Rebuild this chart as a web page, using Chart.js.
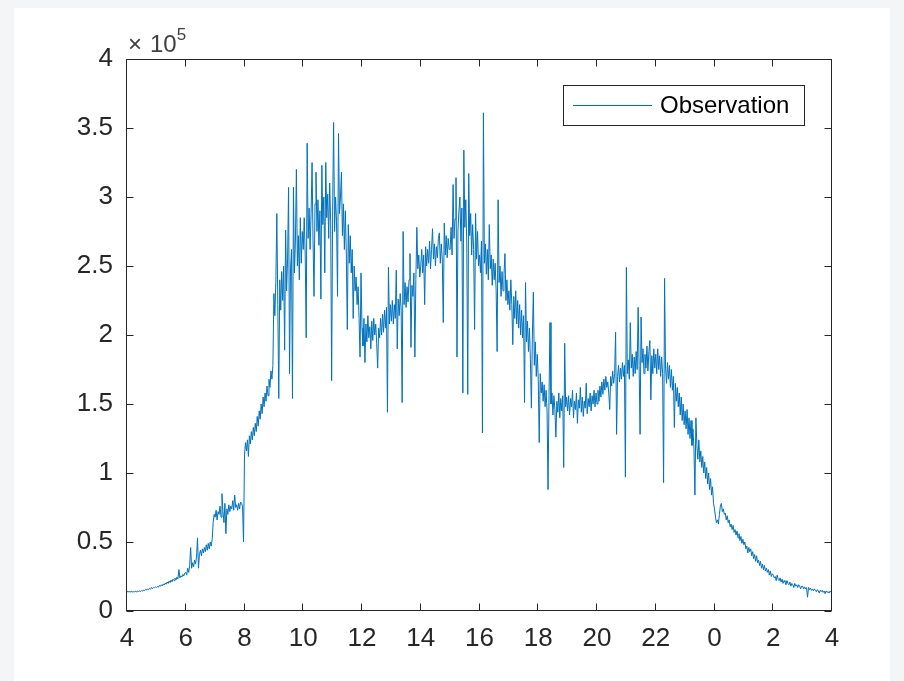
<!DOCTYPE html>
<html>
<head>
<meta charset="utf-8">
<script src="https://cdn.jsdelivr.net/npm/chart.js@4.4.1/dist/chart.umd.min.js"></script>
<style>
html,body{margin:0;padding:0;background:#f4f5f7;}
canvas{display:block;}
</style>
</head>
<body>
<canvas id="c" width="904" height="681"></canvas>
<script>
// ---------- data (values in thousands, one sample every 2 minutes from 04:00) ----------
const seriesLabel = 'Observation';
const startHour = 4;
const stepMinutes = 2;
const xTickLabels = ['4','6','8','10','12','14','16','18','20','22','0','2','4'];
const yTickLabels = ['0','0.5','1','1.5','2','2.5','3','3.5','4'];
const exponentLabel = '5';

// 04:00 - 07:58
const night = [
  14.0,14.3,13.7,14.1,13.8,14.2,13.6,14.1,13.9,14.3,13.8,14.4,14.0,14.6,14.1,14.9,14.4,15.2,14.7,15.6,15.2,16.0,15.5,16.5,15.8,17.0,16.2,17.2,16.8,17.5,
  17.0,17.8,17.2,18.5,17.8,19.0,18.2,19.6,18.8,20.2,19.4,21.0,20.0,21.8,20.6,22.4,21.2,23.0,22.0,23.8,22.6,24.5,23.2,30.0,24.0,25.5,24.6,26.5,25.4,27.5,
  28,26,31,28,33,46,31,35,32,37,34,39,53,31,41,44,40,45,42,46,43,48,44,49,45,50,47,52,64,70,
  68,73,66,72,70,76,68,85,72,64,78,56,74,70,77,72,76,74,80,73,84,75,77,73,78,74,79,78,76,50
];
// 08:00 - 11:58
const morning = [
  113,122,116,124,112,127,121,130,124,133,127,136,130,141,134,145,139,150,143,155,148,158,152,163,156,168,162,174,168,178,
  230,214,238,288,222,154,240,218,246,225,250,189,276,232,255,307,172,248,262,154,307,245,268,320,250,272,240,285,252,275,
  262,285,258,198,339,270,292,262,288,325,268,228,295,318,275,298,265,290,226,323,280,300,245,325,285,302,270,310,282,167,
  290,354,275,300,282,228,346,288,300,318,272,295,262,290,258,204,280,252,272,245,262,212,250,232,242,222,235,212,184,245
];
// 12:00 - 15:58
const midday = [
  205,192,212,180,208,195,214,198,206,190,210,196,212,200,208,194,176,205,198,212,200,215,202,218,205,220,144,249,208,222,
  210,225,208,222,212,247,190,226,214,230,218,151,275,222,238,220,235,224,240,259,191,236,228,245,184,240,278,248,258,242,
  250,262,245,258,222,264,250,262,252,268,248,262,277,255,266,250,264,256,270,274,252,266,255,209,281,258,272,256,270,262,
  262,278,258,309,270,284,314,184,276,290,300,268,292,158,334,278,298,266,157,317,272,288,258,280,262,204,288,255,275,250
];
// 16:00 - 19:58
const afternoon = [
  258,245,268,129,361,252,266,244,262,240,280,248,258,236,255,240,252,232,188,298,238,250,228,246,232,244,259,225,240,222,
  232,218,240,222,193,228,212,232,208,225,205,222,200,218,198,214,151,238,195,210,188,205,182,147,200,231,178,195,170,186,
  168,122,172,158,166,152,164,148,160,145,88,156,209,150,158,142,156,146,126,152,144,158,140,154,145,156,104,194,148,155,
  145,156,142,154,148,160,140,152,146,158,136,153,147,162,144,155,141,152,147,165,143,154,148,158,145,156,150,160,148,158
];
// 20:00 - 23:58
const evening = [
  150,160,152,163,155,166,157,168,160,170,162,166,158,146,170,163,174,165,172,202,128,170,178,166,176,168,180,170,178,97,
  249,172,182,168,209,176,186,170,184,172,188,175,220,178,128,213,180,190,172,186,176,192,174,188,196,153,185,172,190,176,
  186,172,190,175,185,170,184,172,93,241,176,165,180,168,178,162,175,160,170,133,165,152,162,148,158,142,155,138,150,135,
  145,132,146,128,140,125,138,120,132,118,84,140,120,110,124,108,116,104,112,100,108,96,104,92,100,88,96,84,90,78
];
// 00:00 - 04:00
const lateNight = [
  74,68,64,66,63,70,76,78,72,74,70,71,66,69,64,66,61,63,59,62,57,59,55,58,53,56,51,54,49,52,
  48,50,45,47,42,46,43,45,40,43,38,41,36,40,35,37,33,36,31,34,30,33,29,31,28,30,26,29,25,27,
  26,24,25,22,26,23,22,24,21,23,20,22,21,19,22,20,19,21,18,20,19,17,20,18,19,17,19,18,16,18,
  18,16,17.5,16,17,10,17,15.5,16.5,15,16,14.5,16,15,14,15.5,14.5,13,15,14,15,13.5,14.5,12.5,14.5,13.5,14,13,14.5,13.5,
  14
];

const observationK = [].concat(night, morning, midday, afternoon, evening, lateNight);
const points = observationK.map((v, i) => ({ x: startHour + i * stepMinutes / 60, y: v * 1000 }));

// ---------- styling ----------
const FONT = '"Liberation Sans", Arial, Helvetica, sans-serif';
const AXIS_COLOR = '#262626';
const LINE_COLOR = '#0072BD';

const matlabFrame = {
  id: 'matlabFrame',
  beforeDraw(chart) {
    const ctx = chart.ctx;
    ctx.save();
    ctx.fillStyle = '#f4f5f7';
    ctx.fillRect(0, 0, chart.width, chart.height);
    ctx.fillStyle = '#ffffff';
    ctx.fillRect(14, 8, chart.width - 28, chart.height - 8);
    ctx.restore();
  },
  afterDatasetsDraw(chart) {
    const { ctx, chartArea: a, scales: { x, y } } = chart;
    ctx.save();
    ctx.strokeStyle = AXIS_COLOR;
    ctx.lineWidth = 1;
    const L = Math.round(a.left) - 0.5, R = Math.round(a.right) - 0.5;
    const T = Math.round(a.top) + 0.5, B = Math.round(a.bottom) - 0.5;
    ctx.strokeRect(L, T, R - L, B - T);
    const tl = 7;
    ctx.beginPath();
    x.ticks.forEach(t => {
      const px = Math.round(x.getPixelForValue(t.value)) - 0.5;
      ctx.moveTo(px, B); ctx.lineTo(px, B - tl);
      ctx.moveTo(px, T); ctx.lineTo(px, T + tl);
    });
    y.ticks.forEach(t => {
      const py = Math.round(y.getPixelForValue(t.value)) + 0.5;
      ctx.moveTo(L, py); ctx.lineTo(L + tl, py);
      ctx.moveTo(R, py); ctx.lineTo(R - tl, py);
    });
    ctx.stroke();

    // exponent label  x10^5
    ctx.fillStyle = '#404040';
    ctx.textAlign = 'left';
    ctx.textBaseline = 'alphabetic';
    ctx.font = '24px ' + FONT;
    const xs = a.left + 1;
    ctx.fillText('\u00D7', xs, a.top - 7);
    const wx = ctx.measureText('\u00D7').width;
    ctx.fillText('10', xs + wx + 8, a.top - 7);
    const w10 = ctx.measureText('10').width;
    ctx.font = '17px ' + FONT;
    ctx.fillText(exponentLabel, xs + wx + 8 + w10, a.top - 19);

    // legend box
    const bx = a.right - 269, by = a.top + 26, bw = 241, bh = 40;
    ctx.fillStyle = '#ffffff';
    ctx.fillRect(bx, by, bw, bh);
    ctx.strokeStyle = AXIS_COLOR;
    ctx.strokeRect(Math.round(bx) + 0.5, Math.round(by) + 0.5, bw, bh);
    ctx.strokeStyle = LINE_COLOR;
    ctx.beginPath();
    ctx.moveTo(bx + 10, by + 20.5);
    ctx.lineTo(bx + 89, by + 20.5);
    ctx.stroke();
    ctx.fillStyle = '#000000';
    ctx.font = '24px ' + FONT;
    ctx.textBaseline = 'middle';
    ctx.fillText(chart.data.datasets[0].label, bx + 97, by + 21);
    ctx.restore();
  }
};

new Chart(document.getElementById('c'), {
  type: 'line',
  data: {
    datasets: [{
      label: seriesLabel,
      data: points,
      borderColor: LINE_COLOR,
      backgroundColor: LINE_COLOR,
      borderWidth: 1,
      pointRadius: 0,
      fill: false,
      tension: 0
    }]
  },
  options: {
    responsive: false,
    animation: false,
    devicePixelRatio: 1,
    layout: { padding: { top: 59, right: 72, left: 0, bottom: 0 } },
    plugins: { legend: { display: false }, tooltip: { enabled: false } },
    scales: {
      x: {
        type: 'linear', min: 4, max: 28,
        grid: { display: false, drawTicks: false, tickLength: 0 },
        border: { display: false },
        ticks: {
          stepSize: 2, autoSkip: false, maxRotation: 0, padding: 12,
          color: AXIS_COLOR, font: { family: FONT, size: 26 },
          callback: (v, i) => xTickLabels[i]
        },
        afterFit(s) { s.height = 70; }
      },
      y: {
        type: 'linear', min: 0, max: 400000,
        grid: { display: false, drawTicks: false, tickLength: 0 },
        border: { display: false },
        ticks: {
          stepSize: 50000, padding: 14,
          color: AXIS_COLOR, font: { family: FONT, size: 26 },
          callback: (v, i) => yTickLabels[i]
        },
        afterFit(s) { s.width = 127; }
      }
    }
  },
  plugins: [matlabFrame]
});
</script>
</body>
</html>
